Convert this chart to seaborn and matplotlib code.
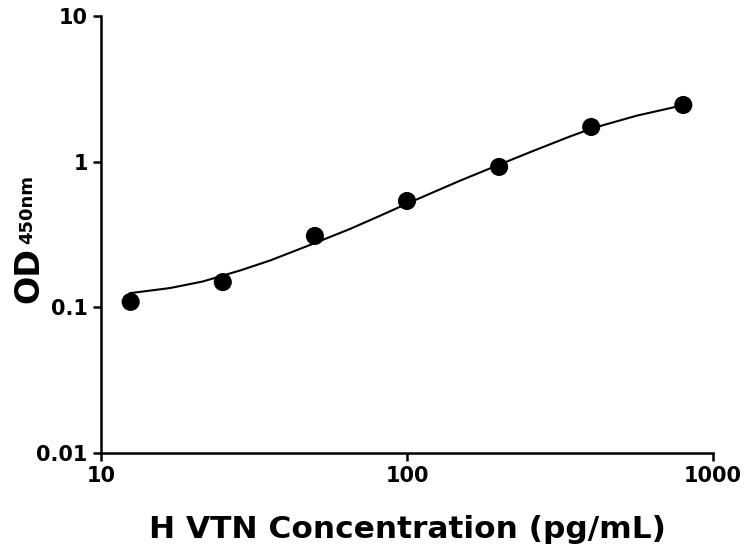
import matplotlib
matplotlib.use("Agg")
import matplotlib.pyplot as plt
import seaborn as sns
import pandas as pd

# measured standards (pg/mL, OD450)
conc = [12.5, 25, 50, 100, 200, 400, 800]
od = [0.109, 0.149, 0.309, 0.537, 0.920, 1.73, 2.45]

# fitted curve
curve_x = [12.4, 16.8, 21.5, 28.5, 35.7, 48.2, 65.1, 81.6, 100, 149, 187, 252, 341, 405, 564, 798]
curve_y = [0.125, 0.1356, 0.1504, 0.1791, 0.2097, 0.268, 0.345, 0.425, 0.515, 0.74, 0.90, 1.16, 1.49, 1.70, 2.07, 2.44]

x_ticks = [10, 100, 1000]
x_tick_labels = ["10", "100", "1000"]
y_ticks = [0.01, 0.1, 1, 10]
y_tick_labels = ["0.01", "0.1", "1", "10"]

sns.set_style("ticks", {"axes.edgecolor": "black", "xtick.color": "black",
                        "ytick.color": "black", "text.color": "black",
                        "axes.labelcolor": "black"})
plt.rcParams["font.family"] = ["DejaVu Sans"]

points = pd.DataFrame({"conc": conc, "od": od})
fit = pd.DataFrame({"conc": curve_x, "od": curve_y})

fig = plt.figure(figsize=(7.45, 5.5), dpi=100)
ax = fig.add_axes([0.1356, 0.1764, 0.8214, 0.7945])

sns.lineplot(data=fit, x="conc", y="od", color="black", linewidth=1.5, ax=ax)
sns.scatterplot(data=points, x="conc", y="od", color="black", s=170, edgecolor="none", ax=ax, zorder=3)

ax.set_xscale("log")
ax.set_yscale("log")
ax.set_xlim(10, 1000)
ax.set_ylim(0.01, 10)
ax.set_xticks(x_ticks)
ax.set_xticklabels(x_tick_labels)
ax.set_yticks(y_ticks)
ax.set_yticklabels(y_tick_labels)
ax.minorticks_off()

for side in ["top", "right"]:
    ax.spines[side].set_visible(False)
for side in ["left", "bottom"]:
    ax.spines[side].set_linewidth(1.8)
ax.tick_params(axis="both", length=6, width=1.8, labelsize=15, direction="out")
for lab in ax.get_xticklabels() + ax.get_yticklabels():
    lab.set_fontweight("bold")

ax.set_xlabel("H VTN Concentration (pg/mL)", fontsize=22.5, fontweight="bold", labelpad=21)
ax.set_ylabel("")

# y label: big OD followed by smaller 450nm, sharing the top line
fig.text(0.016, 0.449, "OD", rotation=90, fontsize=24, fontweight="bold", ha="left", va="bottom")
fig.text(0.024, 0.556, "450nm", rotation=90, fontsize=13, fontweight="bold", ha="left", va="bottom")

fig.savefig("out.png", dpi=100)
